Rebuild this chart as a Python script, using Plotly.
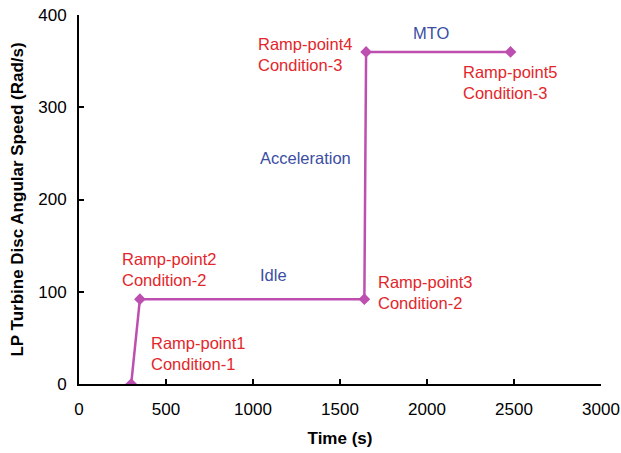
import plotly.graph_objects as go

time_s = [300, 350, 1640, 1650, 2480]
speed = [0, 92, 92, 360, 360]

red_labels = ["Ramp-point1<br>Condition-1", "Ramp-point2<br>Condition-2", "Ramp-point3<br>Condition-2",
              "Ramp-point4<br>Condition-3", "Ramp-point5<br>Condition-3"]
red_x = [400, 236, 1705, 1015, 2195]
red_y = [33, 124, 99, 357, 327]

phase_labels = ["Idle", "Acceleration", "MTO"]
phase_x = [1115, 1300, 2027]
phase_y = [118, 245, 380]

FONT = "Liberation Sans, Arial"

fig = go.Figure()
fig.add_trace(go.Scatter(x=time_s, y=speed, mode="lines+markers",
                         line=dict(color="#bd4fb0", width=2.5),
                         marker=dict(symbol="diamond", size=9, color="#bd4fb0"),
                         showlegend=False))

for t, x, y in zip(red_labels, red_x, red_y):
    fig.add_annotation(x=x, y=y, text=t, showarrow=False, xanchor="left", yanchor="middle",
                       align="left", font=dict(color="#e3262b", size=16.5, family=FONT))
for t, x, y in zip(phase_labels, phase_x, phase_y):
    fig.add_annotation(x=x, y=y, text=t, showarrow=False, xanchor="center", yanchor="middle",
                       font=dict(color="#3b4ea3", size=16.5, family=FONT))

axis_common = dict(showline=True, linecolor="black", linewidth=2, ticks="inside", ticklen=5,
                   tickwidth=2, tickcolor="black", showgrid=False, zeroline=False, automargin=False,
                   tickfont=dict(size=17, color="black", family=FONT))
fig.update_xaxes(range=[0, 3000], dtick=500, tick0=0, ticklabelstandoff=9,
                 title=dict(text="<b>Time (s)</b>", font=dict(size=17, color="black", family=FONT), standoff=14),
                 **axis_common)
fig.update_yaxes(range=[0, 400], dtick=100, tick0=0, ticklabelstandoff=7,
                 title=dict(text="<b>LP Turbine Disc Angular Speed (Rad/s)</b>", font=dict(size=17, color="black", family=FONT), standoff=10),
                 **axis_common)
fig.update_layout(width=621, height=453, margin=dict(l=79, r=20, t=15, b=69),
                  plot_bgcolor="white", paper_bgcolor="white")
fig.write_html("out.html")
